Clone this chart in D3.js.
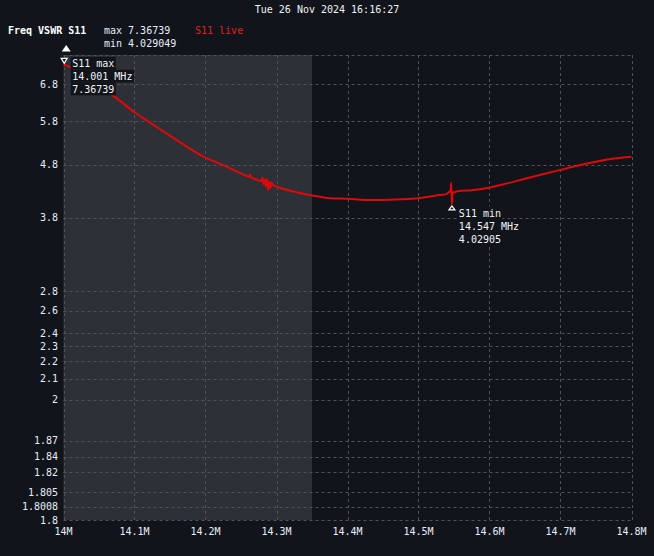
<!DOCTYPE html>
<html><head><meta charset="utf-8">
<script src="https://cdn.jsdelivr.net/npm/d3@7"></script>
<style>
html,body{margin:0;padding:0;background:#11141b;}
svg{display:block;font-family:"DejaVu Sans Mono",monospace;font-size:10px;}
</style></head>
<body><svg id="c" width="654" height="556"></svg>
<script>
// ---- data ----
const title = "Tue 26 Nov 2024 16:16:27";
const freqMHz = [14.000,14.001,14.025,14.05,14.075,14.1,14.125,14.15,14.175,14.2,14.225,14.25,
  14.262,14.263,14.264,14.275,14.278,14.280,14.2815,14.283,14.285,14.2865,14.288,14.290,14.2915,14.293,14.295,
  14.300,14.325,14.35,14.375,14.4,14.425,14.45,14.475,14.5,14.525,14.540,14.543,14.545,14.546,14.547,14.548,
  14.55,14.56,14.575,14.6,14.625,14.65,14.675,14.7,14.725,14.75,14.775,14.8];
const vswrS11 = [7.36,7.36739,7.06,6.74,6.40,6.03,5.73,5.45,5.18,4.95,4.79,4.62,
  4.55,4.60,4.54,4.48,4.46,4.53,4.41,4.49,4.37,4.51,4.29,4.45,4.33,4.44,4.39,
  4.36,4.26,4.19,4.14,4.13,4.11,4.11,4.12,4.14,4.19,4.22,4.26,4.26,4.43,4.029049,4.24,
  4.25,4.28,4.29,4.34,4.42,4.51,4.60,4.69,4.78,4.86,4.93,4.97];
const xTickValues = [14.0,14.1,14.2,14.3,14.4,14.5,14.6,14.7,14.8];
const xTickLabels = ["14M","14.1M","14.2M","14.3M","14.4M","14.5M","14.6M","14.7M","14.8M"];
const yTickValues = [1.8,1.8008,1.805,1.82,1.84,1.87,2,2.1,2.2,2.3,2.4,2.6,2.8,3.8,4.8,5.8,6.8];
const yTickLabels = ["1.8","1.8008","1.805","1.82","1.84","1.87","2","2.1","2.2","2.3","2.4","2.6","2.8","3.8","4.8","5.8","6.8"];
const yDomain = [1.8, 7.6755];
const bandMHz = [14.0, 14.35];
const maxMarker = {f:14.001, v:7.36739, lines:["S11 max","14.001 MHz","7.36739"]};
const minMarker = {f:14.547, v:4.029049, lines:["S11 min","14.547 MHz","4.02905"]};

// ---- layout ----
const L=63.5, R=631.5, T=55, B=520;
const svg = d3.select("#c");
const x = d3.scaleLinear().domain([14.0,14.8]).range([L,R]);
const yPow = d3.scalePow().exponent(0.4).domain([0, yDomain[1]-yDomain[0]]).range([B,T]);
const y = v => yPow(v - yDomain[0]);

svg.append("rect").attr("width",654).attr("height",556).attr("fill","#11141b");
// shaded band
svg.append("rect").attr("x",x(bandMHz[0])).attr("y",T).attr("width",x(bandMHz[1])-x(bandMHz[0])).attr("height",B-T).attr("fill","#2e3037");

const grid = svg.append("g").attr("stroke","#50535a").attr("stroke-width",1).attr("stroke-dasharray","3,3").attr("fill","none");
grid.selectAll("line.v").data(xTickValues).join("line")
  .attr("x1",d=>Math.round(x(d))+0.5).attr("x2",d=>Math.round(x(d))+0.5).attr("y1",T).attr("y2",B);
grid.selectAll("line.h").data(yTickValues.concat([yDomain[1]])).join("line")
  .attr("y1",d=>Math.round(y(d))+0.5).attr("y2",d=>Math.round(y(d))+0.5).attr("x1",L).attr("x2",R);

// tick labels
svg.append("g").selectAll("text").data(yTickValues).join("text")
  .attr("x",58).attr("y",(d)=>y(d)).attr("dy","0.35em").attr("text-anchor","end")
  .attr("fill","#e6eefa").text((d,i)=>yTickLabels[i]);
svg.append("g").selectAll("text").data(xTickValues).join("text")
  .attr("x",d=>x(d)).attr("y",535).attr("text-anchor","middle")
  .attr("fill","#e6eefa").text((d,i)=>xTickLabels[i]);

// header
svg.append("text").attr("x",327).attr("y",13).attr("text-anchor","middle").attr("fill","#f2f2f2").text(title);
svg.append("text").attr("x",8).attr("y",34).attr("fill","#ffffff").attr("font-weight","bold").text("Freq VSWR S11");
svg.append("text").attr("x",104).attr("y",34).attr("fill","#e6eefa").text("max " + d3.max(vswrS11));
svg.append("text").attr("x",104).attr("y",47).attr("fill","#e6eefa").text("min " + d3.min(vswrS11));
svg.append("text").attr("x",195).attr("y",34).attr("fill","#e0201c").text("S11 live");

// trace
const pts = freqMHz.map((f,i)=>({f, v:vswrS11[i]}));
svg.append("path").datum(pts)
  .attr("d", d3.line().curve(d3.curveMonotoneX).x(d=>x(d.f)).y(d=>y(d.v)))
  .attr("fill","none").attr("stroke","#e00808").attr("stroke-width",2).attr("stroke-linejoin","round");

// top indicator triangle
const mx = x(maxMarker.f), my = y(maxMarker.v);
svg.append("path").attr("d",`M${mx+2},45 L${mx+6.5},51.5 L${mx-2.5},51.5 Z`).attr("fill","#ffffff");
// max marker (down pointing, above point)
svg.append("path").attr("d",`M${mx-3},${my-6.5} L${mx+3},${my-6.5} L${mx},${my-1.5} Z`)
  .attr("fill","#11141b").attr("stroke","#ffffff").attr("stroke-width",1.2);
// min marker (up pointing, below point)
const nx = x(minMarker.f), ny = y(minMarker.v);
svg.append("path").attr("d",`M${nx},${ny+1.5} L${nx+3},${ny+5.5} L${nx-3},${ny+5.5} Z`)
  .attr("fill","#11141b").attr("stroke","#ffffff").attr("stroke-width",1.2);

function label(lines, tx, base){
  const g = svg.append("g");
  lines.forEach((s,i)=>{
    const w = s.length*6.02;
    g.append("rect").attr("x",tx-1.5).attr("y",base+i*12.8-10.5).attr("width",w+3).attr("height",12.8).attr("fill","#11141b");
  });
  lines.forEach((s,i)=>{
    g.append("text").attr("x",tx).attr("y",base+i*12.8).attr("fill","#f2f4f8").text(s);
  });
}
label(maxMarker.lines, mx+8, my+2.5);
label(minMarker.lines, nx+7, ny+12.5);
</script></body></html>
